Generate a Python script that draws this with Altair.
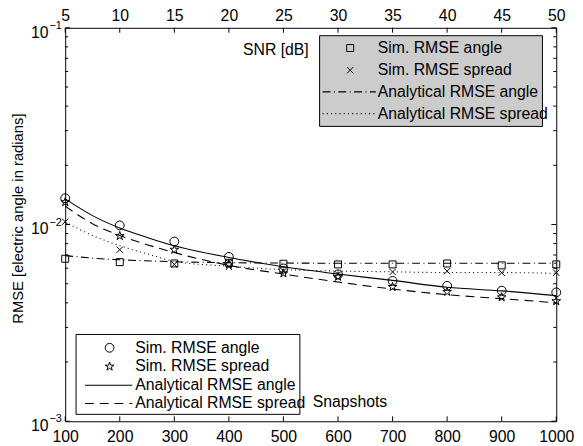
import altair as alt
import pandas as pd

# ---------------- data ----------------
snapshots = [100, 200, 300, 400, 500, 600, 700, 800, 900, 1000]
snr_db = [5, 10, 15, 20, 25, 30, 35, 40, 45, 50]

# simulated, vs snapshots (bottom axis)
sim_angle_snap = [0.0136, 0.0099, 0.0082, 0.00685, 0.00598, 0.00558, 0.00517, 0.00488, 0.00461, 0.00452]
sim_spread_snap = [0.0130, 0.00875, 0.00745, 0.00627, 0.00565, 0.00543, 0.00482, 0.00455, 0.00427, 0.00408]
# simulated, vs SNR (top axis)
sim_angle_snr = [0.0067, 0.00644, 0.00634, 0.00639, 0.00632, 0.00627, 0.00627, 0.00634, 0.0062, 0.00627]
sim_spread_snr = [0.01033, 0.00745, 0.00627, 0.0061, 0.0058, 0.00558, 0.00574, 0.0058, 0.00569, 0.00569]

# analytical curves
curve_snapshots = [100, 150, 200, 250, 300, 400, 500, 600, 700, 800, 900, 1000]
ana_angle_snap = [0.0135, 0.0111, 0.0096, 0.0086, 0.0078, 0.0068, 0.0061, 0.0056, 0.0052, 0.0048, 0.0046, 0.00435]
ana_spread_snap = [0.0124, 0.0101, 0.0088, 0.0079, 0.0072, 0.0062, 0.0056, 0.0051, 0.0047, 0.0044, 0.0042, 0.0040]
curve_snr = [5, 7.5, 10, 12.5, 15, 20, 25, 30, 35, 40, 45, 50]
ana_angle_snr = [0.00695, 0.00675, 0.00662, 0.00654, 0.00647, 0.0064, 0.00637, 0.00636, 0.00636, 0.00636, 0.00636, 0.00636]
ana_spread_snr = [0.0103, 0.0088, 0.0078, 0.0071, 0.0065, 0.00614, 0.0059, 0.0058, 0.00575, 0.0057, 0.0057, 0.00565]

y_major = [0.001, 0.01, 0.1]
y_minor = [0.002, 0.003, 0.004, 0.005, 0.006, 0.007, 0.008, 0.009,
           0.02, 0.03, 0.04, 0.05, 0.06, 0.07, 0.08, 0.09]
y_exponents = ["−3", "−2", "−1"]

top_legend = ["Sim. RMSE angle", "Sim. RMSE spread", "Analytical RMSE angle", "Analytical RMSE spread"]
bottom_legend = ["Sim. RMSE angle", "Sim. RMSE spread", "Analytical RMSE angle", "Analytical RMSE spread"]

# ---------------- styling ----------------
W, H = 498, 399
FONT = "Liberation Sans"
FS = 16
STAR = "M0,-1L0.2245,-0.309L0.951,-0.309L0.363,0.118L0.588,0.809L0,0.382L-0.588,0.809L-0.363,0.118L-0.951,-0.309L-0.2245,-0.309Z"
XMARK = "M-1,-1L1,1M-1,1L1,-1"
DASH = [9, 6]
DASHDOT = [8, 3.5, 1, 3.5]
DOT = [1, 3.3]

yscale = alt.Scale(type="log", domain=[0.001, 0.1])
snap_scale = alt.Scale(domain=[100, 1000], nice=False, zero=False)
snr_scale = alt.Scale(domain=[5, 50], nice=False, zero=False)

df_snap = pd.DataFrame({"n": snapshots, "angle": sim_angle_snap, "spread": sim_spread_snap})
df_snr = pd.DataFrame({"s": snr_db, "angle": sim_angle_snr, "spread": sim_spread_snr})
df_curve_snap = pd.DataFrame({"n": curve_snapshots, "angle": ana_angle_snap, "spread": ana_spread_snap})
df_curve_snr = pd.DataFrame({"s": curve_snr, "angle": ana_angle_snr, "spread": ana_spread_snr})
df_ymaj = pd.DataFrame({"v": y_major, "e": y_exponents})
df_ymin = pd.DataFrame({"v": y_minor})
df_xt = pd.DataFrame({"n": snapshots})
df_st = pd.DataFrame({"s": snr_db})
one = pd.DataFrame({"a": [0]})


def Y(field):
    return alt.Y(f"{field}:Q", scale=yscale, axis=None)


bottom_axis = alt.Axis(orient="bottom", values=snapshots, ticks=False, domain=False, grid=False,
                       labelFont=FONT, labelFontSize=FS, labelColor="black", labelPadding=8,
                       labelFlush=False, format="d", title=None)
top_axis = alt.Axis(orient="top", values=snr_db, ticks=False, domain=False, grid=False,
                    labelFont=FONT, labelFontSize=FS, labelColor="black", labelPadding=4,
                    labelFlush=False, format="d", title=None)

PT = dict(filled=False, color="black", strokeWidth=1, opacity=1)

# ---------- bottom (snapshots) group ----------
xb = alt.X("n:Q", scale=snap_scale, axis=bottom_axis)

line_angle_b = alt.Chart(df_curve_snap).mark_line(color="black", strokeWidth=1.1, interpolate="monotone").encode(
    x=xb, y=Y("angle"))
line_spread_b = alt.Chart(df_curve_snap).mark_line(color="black", strokeWidth=1.1, strokeDash=DASH,
                                                    interpolate="monotone").encode(x=xb, y=Y("spread"))
pts_angle_b = alt.Chart(df_snap).mark_point(shape="circle", size=80, **PT).encode(x=xb, y=Y("angle"))
pts_spread_b = alt.Chart(df_snap).mark_point(shape=STAR, size=85, **PT).encode(x=xb, y=Y("spread"))

xtick_b = alt.Chart(df_xt).mark_rule(color="black", strokeWidth=1).encode(
    x=xb, y=alt.value(H), y2=alt.value(H - 5))

ytick_maj_l = alt.Chart(df_ymaj).mark_rule(color="black").encode(y=Y("v"), x=alt.value(0), x2=alt.value(5))
ytick_maj_r = alt.Chart(df_ymaj).mark_rule(color="black").encode(y=Y("v"), x=alt.value(W), x2=alt.value(W - 5))
ytick_min_l = alt.Chart(df_ymin).mark_rule(color="black").encode(y=Y("v"), x=alt.value(0), x2=alt.value(3))
ytick_min_r = alt.Chart(df_ymin).mark_rule(color="black").encode(y=Y("v"), x=alt.value(W), x2=alt.value(W - 3))

ylab_base = alt.Chart(df_ymaj).mark_text(text="10", align="right", baseline="middle", font=FONT,
                                         fontSize=FS, color="black", dy=5).encode(y=Y("v"), x=alt.value(-17))
ylab_exp = alt.Chart(df_ymaj).mark_text(align="left", baseline="middle", font=FONT,
                                        fontSize=11, color="black", dy=-2).encode(
    y=Y("v"), x=alt.value(-16), text="e:N")
ytitle = alt.Chart(one).mark_text(text="RMSE [electric angle in radians]", angle=270, align="center",
                                  baseline="middle", font=FONT, fontSize=FS - 1, color="black").encode(
    x=alt.value(-48), y=alt.value(H / 2 - 6))

snap_label = alt.Chart(one).mark_text(text="Snapshots", align="left", baseline="middle", font=FONT,
                                      fontSize=FS, color="black").encode(x=alt.value(251), y=alt.value(380))

# bottom legend
bl_x0, bl_x1, bl_y0, bl_y1 = 11, 238, 311, 392
bl_rows = [324.5, 343.5, 362.5, 381]
bl_box = alt.Chart(one).mark_rect(fill="white", stroke="black", strokeWidth=1).encode(
    x=alt.value(bl_x0), x2=alt.value(bl_x1), y=alt.value(bl_y0), y2=alt.value(bl_y1))
bl_layers = [bl_box]
bl_layers.append(alt.Chart(one).mark_point(shape="circle", size=80, **PT).encode(
    x=alt.value(45), y=alt.value(bl_rows[0])))
bl_layers.append(alt.Chart(one).mark_point(shape=STAR, size=85, **PT).encode(
    x=alt.value(45), y=alt.value(bl_rows[1])))
bl_layers.append(alt.Chart(one).mark_rule(color="black", strokeWidth=1.1).encode(
    x=alt.value(20), x2=alt.value(68), y=alt.value(bl_rows[2])))
bl_layers.append(alt.Chart(one).mark_rule(color="black", strokeWidth=1.1, strokeDash=DASH).encode(
    x=alt.value(20), x2=alt.value(68), y=alt.value(bl_rows[3])))
for lab, yy in zip(bottom_legend, bl_rows):
    bl_layers.append(alt.Chart(one).mark_text(text=lab, align="left", baseline="middle", font=FONT,
                                              fontSize=FS, color="black").encode(
        x=alt.value(71), y=alt.value(yy)))

bottom_group = alt.layer(
    ytick_min_l, ytick_min_r, ytick_maj_l, ytick_maj_r, xtick_b,
    line_angle_b, line_spread_b, pts_angle_b, pts_spread_b,
    ylab_base, ylab_exp, ytitle, snap_label, *bl_layers
)

# ---------- top (SNR) group ----------
xt = alt.X("s:Q", scale=snr_scale, axis=top_axis)

line_angle_t = alt.Chart(df_curve_snr).mark_line(color="black", strokeWidth=1.1, strokeDash=DASHDOT,
                                                  interpolate="monotone").encode(x=xt, y=Y("angle"))
line_spread_t = alt.Chart(df_curve_snr).mark_line(color="black", strokeWidth=1.1, strokeDash=DOT,
                                                   interpolate="monotone").encode(x=xt, y=Y("spread"))
pts_angle_t = alt.Chart(df_snr).mark_point(shape="square", size=50, **PT).encode(x=xt, y=Y("angle"))
pts_spread_t = alt.Chart(df_snr).mark_point(shape=XMARK, size=40, **PT).encode(x=xt, y=Y("spread"))
xtick_t = alt.Chart(df_st).mark_rule(color="black", strokeWidth=1).encode(
    x=xt, y=alt.value(0), y2=alt.value(5))

snr_label = alt.Chart(one).mark_text(text="SNR [dB]", align="right", baseline="middle", font=FONT,
                                     fontSize=FS, color="black").encode(x=alt.value(247), y=alt.value(23))

tl_x0, tl_x1, tl_y0, tl_y1 = 258, 484, 8, 100
tl_rows = [20.5, 43, 65, 87]
tl_layers = [alt.Chart(one).mark_rect(fill="#cccccc", stroke="black", strokeWidth=1).encode(
    x=alt.value(tl_x0), x2=alt.value(tl_x1), y=alt.value(tl_y0), y2=alt.value(tl_y1))]
tl_layers.append(alt.Chart(one).mark_point(shape="square", size=50, **PT).encode(
    x=alt.value(289), y=alt.value(tl_rows[0])))
tl_layers.append(alt.Chart(one).mark_point(shape=XMARK, size=40, **PT).encode(
    x=alt.value(289), y=alt.value(tl_rows[1])))
tl_layers.append(alt.Chart(one).mark_rule(color="black", strokeWidth=1.1, strokeDash=DASHDOT).encode(
    x=alt.value(261), x2=alt.value(315), y=alt.value(tl_rows[2])))
tl_layers.append(alt.Chart(one).mark_rule(color="black", strokeWidth=1.1, strokeDash=DOT).encode(
    x=alt.value(261), x2=alt.value(315), y=alt.value(tl_rows[3])))
for lab, yy in zip(top_legend, tl_rows):
    tl_layers.append(alt.Chart(one).mark_text(text=lab, align="left", baseline="middle", font=FONT,
                                              fontSize=FS, color="black").encode(
        x=alt.value(317), y=alt.value(yy)))

top_group = alt.layer(
    xtick_t, line_angle_t, line_spread_t, pts_angle_t, pts_spread_t, snr_label, *tl_layers
)

chart = alt.layer(bottom_group, top_group).resolve_scale(x="independent").properties(
    width=W, height=H,
    autosize=alt.AutoSizeParams(type="none"),
    padding={"left": 58, "top": 17, "right": 19, "bottom": 22},
    background="white",
).configure_view(stroke="black", strokeWidth=1)

chart.save("out.html", embed_options={"renderer": "svg", "actions": False})
